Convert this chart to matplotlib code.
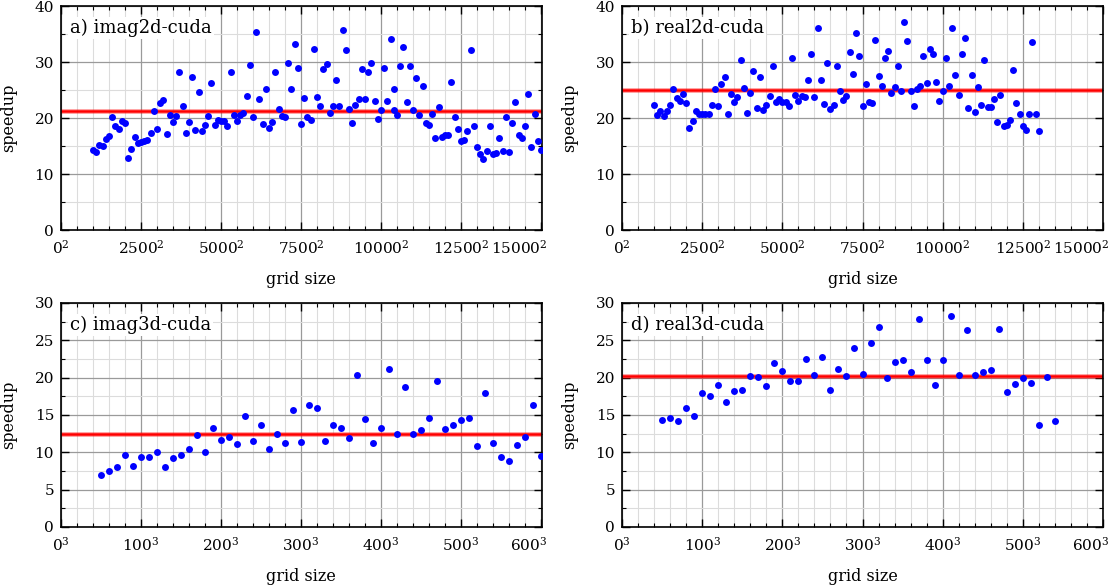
import numpy as np
import matplotlib.pyplot as plt
from matplotlib.ticker import MultipleLocator
from matplotlib.transforms import ScaledTranslation

plt.rcParams['font.family'] = ['DejaVu Serif']
plt.rcParams['mathtext.fontset'] = 'dejavuserif'

# a) imag2d-cuda, grid side 1000..15000 step 100 (plus one repeated size)
grid_a = list(range(1000, 15001, 100)) + [10400]
speedup_a = [
    14.3, 13.9, 15.1, 15.0, 16.3, 16.8, 20.2, 18.6, 18.0, 19.4,
    19.1, 12.9, 14.5, 16.6, 15.5, 15.8, 15.9, 16.1, 17.4, 21.2,
    18.0, 22.6, 23.3, 17.1, 20.6, 19.3, 20.4, 28.3, 22.1, 17.3,
    19.3, 27.4, 17.8, 24.7, 17.6, 18.8, 20.4, 26.2, 18.8, 19.7,
    19.4, 19.5, 18.6, 28.3, 20.5, 19.5, 20.6, 20.9, 23.9, 29.4,
    20.1, 35.4, 23.4, 18.9, 25.1, 18.3, 19.2, 28.2, 21.6, 20.4,
    20.2, 29.9, 25.1, 33.3, 29.0, 19.0, 23.5, 20.1, 19.6, 32.4,
    23.8, 22.1, 28.7, 29.7, 20.9, 22.1, 26.8, 22.1, 35.8, 32.2,
    21.6, 19.1, 22.3, 23.4, 28.8, 23.4, 28.3, 29.8, 23.0, 19.9,
    21.4, 29.0, 23.1, 34.1, 25.2, 20.6, 29.2, 32.6, 22.9, 29.3,
    21.4, 27.2, 20.5, 25.7, 19.1, 18.7, 20.7, 16.5, 21.9, 16.6,
    16.9, 16.9, 26.5, 20.2, 18.0, 15.9, 16.0, 17.6, 32.2, 18.5,
    14.9, 13.5, 12.7, 14.1, 18.6, 13.5, 13.8, 16.4, 14.1, 20.2,
    13.9, 19.1, 22.9, 16.9, 16.5, 18.5, 24.3, 14.8, 20.8, 15.9,
    14.2,
    21.5,
]
mean_a = 21.2

# b) real2d-cuda, grid side 1000..13000 step 100
grid_b = list(range(1000, 13001, 100))
speedup_b = [
    22.4, 20.5, 21.3, 20.4, 21.2, 22.3, 25.1, 23.6, 23.0, 24.2,
    22.6, 18.2, 19.5, 21.3, 20.7, 20.7, 20.8, 20.8, 22.4, 25.2,
    22.2, 26.1, 27.3, 20.8, 24.2, 22.9, 23.8, 30.4, 25.3, 20.9,
    24.5, 28.4, 21.8, 27.4, 21.4, 22.4, 24.0, 29.3, 22.9, 23.4,
    22.8, 22.8, 22.1, 30.7, 24.1, 23.1, 23.9, 23.7, 26.7, 31.5,
    23.8, 36.1, 26.7, 22.5, 29.9, 21.6, 22.3, 29.3, 24.8, 23.3,
    23.9, 31.8, 27.9, 35.1, 31.0, 22.1, 26.1, 22.9, 22.6, 33.9,
    27.5, 25.7, 30.7, 31.9, 24.5, 25.5, 29.3, 24.9, 37.1, 33.8,
    24.9, 22.2, 25.1, 25.8, 31.1, 26.3, 32.3, 31.5, 26.4, 23.0,
    24.9, 30.8, 25.8, 36.0, 27.7, 24.1, 31.4, 34.2, 21.8, 27.6,
    21.1, 25.6, 22.4, 30.4, 21.9, 22.0, 23.4, 19.2, 24.1, 18.6,
    18.8, 19.6, 28.5, 22.6, 20.8, 18.5, 17.9, 20.8, 33.6, 20.8,
    17.6,
]
mean_b = 25.0

# c) imag3d-cuda, grid side 50..600 step 10
grid_c = list(range(50, 601, 10))
speedup_c = [
    6.9, 7.5, 8.0, 9.6, 8.2, 9.4, 9.4, 10.1, 8.1, 9.3,
    9.6, 10.5, 12.3, 10.0, 13.3, 11.7, 12.0, 11.1, 14.8, 11.5,
    13.6, 10.4, 12.4, 11.3, 15.7, 11.4, 16.3, 15.9, 11.5, 13.7,
    13.3, 11.9, 20.4, 14.5, 11.3, 13.2, 21.1, 12.5, 18.8, 12.4,
    13.0, 14.6, 19.5, 13.1, 13.7, 14.3, 14.6, 10.8, 18.0, 11.3,
    9.4, 8.9, 11.0, 12.1, 16.4, 9.5,
]
mean_c = 12.4

# d) real3d-cuda, grid side 50..540 step 10
grid_d = list(range(50, 541, 10))
speedup_d = [
    14.3, 14.6, 14.2, 16.0, 14.8, 17.9, 17.6, 19.0, 16.7, 18.2,
    18.4, 20.2, 20.1, 18.9, 21.9, 20.9, 19.5, 19.5, 22.5, 20.3,
    22.8, 18.4, 21.1, 20.2, 24.0, 20.5, 24.6, 26.8, 19.9, 22.1,
    22.3, 20.8, 27.9, 22.4, 19.0, 22.3, 28.2, 20.4, 26.4, 20.4,
    20.7, 21.0, 26.5, 18.1, 19.2, 20.0, 19.3, 13.7, 20.1, 14.2,
]
mean_d = 20.2

panels = [
    ("a) imag2d-cuda", grid_a, speedup_a, mean_a, 2, 15015, 2500, 500, 40, 10, 5),
    ("b) real2d-cuda", grid_b, speedup_b, mean_b, 2, 15000, 2500, 500, 40, 10, 5),
    ("c) imag3d-cuda", grid_c, speedup_c, mean_c, 3, 601, 100, 20, 30, 5, 2.5),
    ("d) real3d-cuda", grid_d, speedup_d, mean_d, 3, 600, 100, 20, 30, 5, 2.5),
]

W, H = 1114, 586
fig = plt.figure(figsize=(W / 100, H / 100), dpi=100)
# axes boxes in pixels: left, top, right, bottom
boxes = [(61, 6, 541.5, 230), (622, 6, 1103, 230),
         (61, 303, 541.5, 527), (622, 303, 1103, 527)]

for (title, gx, sp, mean, power, xmax, xmaj, xmin, ymax, ymaj, ymin), box in zip(panels, boxes):
    l, t, r, b = box
    ax = fig.add_axes([l / W, 1 - b / H, (r - l) / W, (b - t) / H])
    ax.set_xlim(0, xmax)
    ax.set_ylim(0, ymax)
    ax.xaxis.set_major_locator(MultipleLocator(xmaj))
    ax.xaxis.set_minor_locator(MultipleLocator(xmin))
    ax.yaxis.set_major_locator(MultipleLocator(ymaj))
    ax.yaxis.set_minor_locator(MultipleLocator(ymin))
    ticks = np.arange(0, xmax + 1, xmaj)
    ax.set_xticks(ticks)
    ax.set_xticklabels([r"$\mathregular{%d^%d}$" % (v, power) for v in ticks])
    ax.grid(which='major', color='#9a9a9a', linewidth=0.9)
    ax.grid(which='minor', color='#dcdcdc', linewidth=0.8)
    ax.set_axisbelow(True)
    ax.tick_params(which='both', direction='in', top=True, right=True,
                   labelsize=11, color='black')
    ax.tick_params(which='major', length=6, width=1)
    ax.tick_params(which='minor', length=3, width=0.8)
    ax.tick_params(axis='x', pad=6)
    ax.tick_params(axis='y', pad=5)
    for s in ax.spines.values():
        s.set_linewidth(1.2)

    # last x label pulled left so it stays inside the figure
    last = ax.get_xticklabels()[-1]
    last.set_horizontalalignment('right')
    last.set_transform(last.get_transform() + ScaledTranslation(6 / 100, 0, fig.dpi_scale_trans))

    ax.axhline(mean, color='red', alpha=0.35, linewidth=3.6, zorder=2)
    ax.axhline(mean, color='red', linewidth=1.8, zorder=2)
    ax.plot(gx, sp, 'o', color='#0000ff', markersize=5, markeredgewidth=0, zorder=3)

    ax.text(9 / (r - l), 1 - 27 / (b - t), title, transform=ax.transAxes,
            fontsize=13, va='baseline', ha='left', zorder=4,
            bbox=dict(facecolor='white', edgecolor='none', pad=1.5))

    ax.set_xlabel("grid size", fontsize=11.5)
    ax.set_ylabel("speedup", fontsize=11.5)
    ax.xaxis.set_label_coords(0.5, -41 / (b - t))
    ax.yaxis.set_label_coords(-44 / (r - l), 0.5)

fig.savefig("out.png", dpi=100)
